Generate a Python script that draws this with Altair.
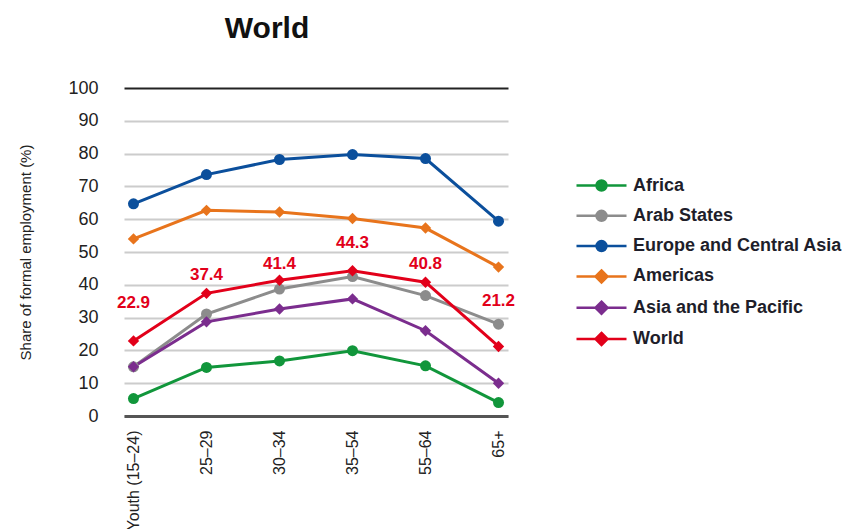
import altair as alt
import pandas as pd

# Age groups on the x axis
ages = ["Youth (15–24)", "25–29", "30–34", "35–54", "55–64", "65+"]

# Regions, in legend order
regions = ["Africa", "Arab States", "Europe and Central Asia",
           "Americas", "Asia and the Pacific", "World"]

# Share of formal employment (%) by age group
africa = [5.3, 14.8, 16.8, 19.9, 15.3, 4.1]
arab_states = [15.0, 31.1, 38.7, 42.5, 36.7, 28.0]
europe_central_asia = [64.7, 73.6, 78.2, 79.7, 78.5, 59.4]
americas = [54.0, 62.7, 62.2, 60.2, 57.3, 45.4]
asia_pacific = [15.0, 28.7, 32.6, 35.7, 26.0, 10.0]
world = [22.9, 37.4, 41.4, 44.3, 40.8, 21.2]

series_values = [africa, arab_states, europe_central_asia,
                 americas, asia_pacific, world]

# ---- styling ----
colors = ["#11963b", "#8c8c8c", "#0b4f9c", "#e8741c", "#7b2d8e", "#e2001a"]
circle_regions = ["Africa", "Arab States", "Europe and Central Asia"]
diamond_regions = ["Americas", "Asia and the Pacific", "World"]

# legend symbols: a line segment with the series marker in the middle
# (unit = half of sqrt(symbolSize), i.e. 15 px for symbolSize 900)
LINE = "M-1.667,0L1.667,0"
CIRCLE = "M0.333,0A0.333,0.333,0,1,1,-0.333,0A0.333,0.333,0,1,1,0.333,0Z"
DIAMOND = "M0,-0.4L0.4,0L0,0.4L-0.4,0Z"
legend_paths = [LINE + CIRCLE] * 3 + [LINE + DIAMOND] * 3

# vertical lift (px) of each World value label above its point
label_lift = [-38, -18, -16, -28, -18, -45]

FONT = "Liberation Sans, Arial, sans-serif"

rows = []
for region, vals in zip(regions, series_values):
    for age, v in zip(ages, vals):
        rows.append({"age": age, "region": region, "value": v})
df = pd.DataFrame(rows)

labels = pd.DataFrame({"age": ages, "value": world, "lift": label_lift})

color_scale = alt.Scale(domain=regions, range=colors)

x = alt.X(
    "age:N", sort=ages,
    scale=alt.Scale(type="point", padding=0.13),
    axis=alt.Axis(
        title=None, labelAngle=270, labelFont=FONT, labelFontSize=16,
        labelColor="#222222", labelPadding=14, ticks=False,
        domainColor="#555555", domainWidth=3, grid=False,
    ),
)
y = alt.Y(
    "value:Q",
    scale=alt.Scale(domain=[0, 100], nice=False),
    axis=alt.Axis(
        title="Share of formal employment (%)", titleFont=FONT,
        titleFontSize=15, titleFontWeight="normal", titleColor="#222222",
        titlePadding=34,
        values=list(range(0, 101, 10)), labelFont=FONT, labelFontSize=18,
        labelColor="#222222", labelPadding=26, ticks=False, domain=False,
        grid=True, gridWidth=2,
        gridColor={"condition": {"test": "datum.value == 100", "value": "#222222"},
                   "value": "#cccccc"},
    ),
)

legend = alt.Legend(
    title=None, orient="none", legendX=461, legendY=81,
    labelFont=FONT, labelFontSize=18, labelFontWeight="bold",
    labelColor="#1e1e2a", labelLimit=320,
    symbolSize=900, symbolStrokeWidth=2.5, symbolOpacity=1,
    rowPadding=3.3, labelOffset=15,
)

color = alt.Color("region:N", scale=color_scale, legend=legend)

base = alt.Chart(df)

lines = base.mark_line(strokeWidth=3).encode(
    x=x, y=y, color=color, detail="region:N",
)

circles = base.transform_filter(
    alt.FieldOneOfPredicate(field="region", oneOf=circle_regions)
).mark_point(shape="circle", filled=True, size=121, opacity=1).encode(
    x=x, y=y, color=color,
)

diamonds = base.transform_filter(
    alt.FieldOneOfPredicate(field="region", oneOf=diamond_regions)
).mark_point(shape="diamond", filled=True, size=130, opacity=1).encode(
    x=x, y=y, color=color,
)

value_labels = alt.Chart(labels).mark_text(
    font=FONT, fontSize=17, fontWeight="bold", color="#e2001a", baseline="middle",
    dy=alt.ExprRef("datum.lift"),
).encode(
    x=x, y=y,
    text=alt.Text("value:Q", format=".1f"),
)

# legend-only layer: draws no marks, supplies line+marker symbols
legend_layer = base.transform_filter("false").mark_point(
    filled=True, opacity=1, strokeWidth=2.5,
).encode(
    x=x, y=y,
    color=color,
    stroke=alt.Stroke("region:N", scale=alt.Scale(domain=regions, range=colors), legend=legend),
    shape=alt.Shape("region:N", scale=alt.Scale(domain=regions, range=legend_paths), legend=legend),
)

chart = alt.layer(lines, circles, diamonds, value_labels, legend_layer).properties(
    width=384, height=328,
    autosize=alt.AutoSizeParams(type="none"),
    padding={"left": 124, "top": 88, "right": 338, "bottom": 113},
    title=alt.TitleParams(
        "World", font=FONT, fontSize=30, fontWeight="bold", color="#111111",
        anchor="middle", frame="group", dx=-49, offset=35,
    ),
).configure(
    background="white",
).configure_view(strokeWidth=0)

chart.save("out.html", embed_options={"renderer": "svg", "actions": False})
